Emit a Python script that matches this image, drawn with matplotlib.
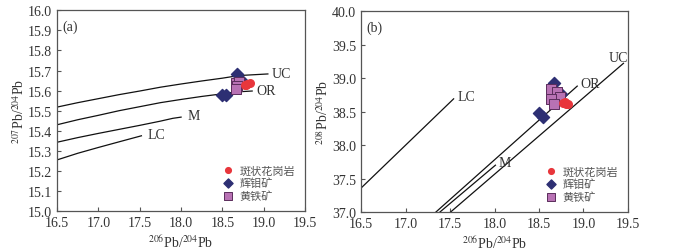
import matplotlib.pyplot as plt

plt.rcParams['font.family'] = ['Liberation Serif', 'Noto Sans CJK SC']
plt.rcParams['mathtext.fontset'] = 'stix'

# ---- panel (a): 207Pb/204Pb vs 206Pb/204Pb growth curves ----
uc_x = [16.5, 16.75, 17.0, 17.25, 17.5, 17.75, 18.0, 18.25, 18.5, 18.7, 19.05]
uc_y = [15.518, 15.540, 15.560, 15.580, 15.598, 15.617, 15.633, 15.648, 15.662, 15.675, 15.683]
or_x = [16.5, 16.75, 17.0, 17.25, 17.5, 17.75, 18.0, 18.25, 18.5, 18.65, 18.86]
or_y = [15.430, 15.455, 15.477, 15.500, 15.520, 15.540, 15.556, 15.571, 15.584, 15.593, 15.598]
m_x = [16.5, 16.75, 17.0, 17.25, 17.5, 17.75, 17.9, 18.0]
m_y = [15.343, 15.366, 15.387, 15.407, 15.427, 15.448, 15.462, 15.468]
lc_x = [16.5, 16.75, 17.0, 17.25, 17.52]
lc_y = [15.255, 15.288, 15.317, 15.345, 15.375]

# ---- panel (b): 208Pb/204Pb vs 206Pb/204Pb growth lines ----
lc2_x = [16.5, 17.54]
lc2_y = [37.36, 38.69]
or2_x = [17.34, 18.93]
or2_y = [37.0, 38.88]
m2_x = [17.385, 18.01]
m2_y = [37.0, 37.70]
uc2_x = [17.505, 19.45]
uc2_y = [37.0, 39.22]

# ---- samples ----
granite_a_x = [18.77, 18.80, 18.83, 18.79]
granite_a_y = [15.630, 15.635, 15.640, 15.628]
moly_a_x = [18.49, 18.54, 18.675, 18.72]
moly_a_y = [15.578, 15.578, 15.685, 15.655]
pyrite_a_x = [18.66, 18.70, 18.68, 18.66]
pyrite_a_y = [15.640, 15.645, 15.625, 15.610]

granite_b_x = [18.77, 18.80, 18.83, 18.79]
granite_b_y = [38.63, 38.62, 38.61, 38.64]
moly_b_x = [18.50, 18.54, 18.67, 18.75]
moly_b_y = [38.48, 38.42, 38.93, 38.76]
pyrite_b_x = [18.64, 18.70, 18.74, 18.64, 18.67]
pyrite_b_y = [38.83, 38.79, 38.71, 38.69, 38.62]

labels = ['斑状花岗岩', '辉钼矿', '黄铁矿']
red = '#e8363c'
navy = '#2d2f73'
purple = '#b872b4'
frame = '#555555'
txt = '#333333'


def style(ax, xlim, ylim, yticks):
    ax.set_xlim(*xlim)
    ax.set_ylim(*ylim)
    ax.set_xticks([16.5, 17.0, 17.5, 18.0, 18.5, 19.0, 19.5])
    ax.set_yticks(yticks)
    ax.xaxis.set_major_formatter(plt.FormatStrFormatter('%.1f'))
    ax.yaxis.set_major_formatter(plt.FormatStrFormatter('%.1f'))
    ax.tick_params(direction='in', length=3, width=0.8, colors=frame,
                   labelcolor=txt, labelsize=10)
    for s in ax.spines.values():
        s.set_color(frame)
        s.set_linewidth(0.9)


def samples(ax, gx, gy, mx, my, px, py):
    ax.scatter(mx, my, marker='D', s=38, color=navy, edgecolor=navy, zorder=3, label=labels[1])
    ax.scatter(px, py, marker='s', s=55, color=purple, edgecolor='#5b2d5c', linewidth=0.7,
               zorder=4, label=labels[2])
    ax.scatter(gx, gy, marker='o', s=30, color=red, edgecolor=red, zorder=5, label=labels[0])
    h, l = ax.get_legend_handles_labels()
    order = [2, 0, 1]
    leg = ax.legend([h[i] for i in order], [l[i] for i in order], loc='lower right',
                    frameon=False, fontsize=8, handletextpad=0.0, labelspacing=0.2,
                    borderaxespad=0.5, markerscale=0.75)
    for t in leg.get_texts():
        t.set_color('#555555')
        t.set_family(['Noto Sans CJK SC'])


fig = plt.figure(figsize=(6.84, 2.51), dpi=100)
ax1 = fig.add_axes([0.0835, 0.155, 0.3625, 0.80])
ax2 = fig.add_axes([0.528, 0.151, 0.39, 0.801])

lw = 0.9
for x, y in [(uc_x, uc_y), (or_x, or_y), (m_x, m_y), (lc_x, lc_y)]:
    ax1.plot(x, y, color='#111111', lw=lw, zorder=2)
ax1.text(19.1, 15.685, 'UC', fontsize=10, va='center', color=txt)
ax1.text(18.91, 15.600, 'OR', fontsize=10, va='center', color=txt)
ax1.text(18.08, 15.475, 'M', fontsize=10, va='center', color=txt)
ax1.text(17.6, 15.38, 'LC', fontsize=10, va='center', color=txt)
ax1.text(0.02, 0.955, '(a)', transform=ax1.transAxes, fontsize=10, va='top', color=txt)
samples(ax1, granite_a_x, granite_a_y, moly_a_x, moly_a_y, pyrite_a_x, pyrite_a_y)
style(ax1, (16.5, 19.5), (15.0, 16.0), [15.0 + 0.1 * i for i in range(11)])
ax1.set_xlabel('$^{206}$Pb/$^{204}$Pb', fontsize=10, color=txt, labelpad=3)
ax1.set_ylabel('$^{207}$Pb/$^{204}$Pb', fontsize=10, color=txt, labelpad=1)

for x, y in [(lc2_x, lc2_y), (or2_x, or2_y), (m2_x, m2_y), (uc2_x, uc2_y)]:
    ax2.plot(x, y, color='#111111', lw=lw, zorder=2)
ax2.text(17.58, 38.72, 'LC', fontsize=10, va='center', color=txt)
ax2.text(18.96, 38.92, 'OR', fontsize=10, va='center', color=txt)
ax2.text(18.04, 37.74, 'M', fontsize=10, va='center', color=txt)
ax2.text(19.28, 39.30, 'UC', fontsize=10, va='center', color=txt)
ax2.text(0.02, 0.955, '(b)', transform=ax2.transAxes, fontsize=10, va='top', color=txt)
samples(ax2, granite_b_x, granite_b_y, moly_b_x, moly_b_y, pyrite_b_x, pyrite_b_y)
style(ax2, (16.5, 19.5), (37.0, 40.0), [37.0, 37.5, 38.0, 38.5, 39.0, 39.5, 40.0])
ax2.set_xlabel('$^{206}$Pb/$^{204}$Pb', fontsize=10, color=txt, labelpad=3)
ax2.set_ylabel('$^{208}$Pb/$^{204}$Pb', fontsize=10, color=txt, labelpad=1)

fig.savefig('out.png', dpi=100)
